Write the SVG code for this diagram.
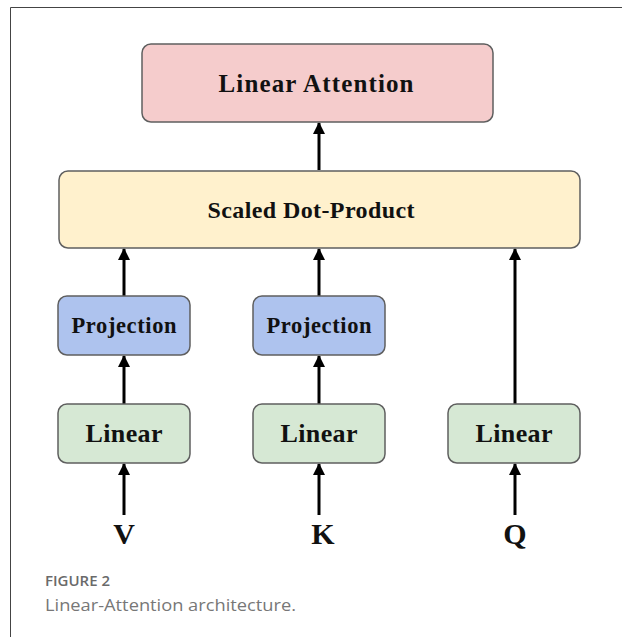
<svg xmlns="http://www.w3.org/2000/svg" width="622" height="637" viewBox="0 0 622 637">
  <defs>
    <marker id="arrow" viewBox="0 0 12 12" markerWidth="12" markerHeight="12" refX="11" refY="6" orient="auto" markerUnits="userSpaceOnUse">
      <path d="M0,0 L12,6 L0,12 Z" fill="#000"/>
    </marker>
    <style>
      .box { stroke: #5f5f5f; stroke-width: 1.5; }
      .pink { fill: #f5cccc; }
      .yellow { fill: #fff1cd; }
      .blue { fill: #aec3ee; }
      .green { fill: #d6e8d4; }
      .lbl { font-family: "Liberation Serif", "Times New Roman", serif; font-weight: bold; fill: #111; text-anchor: middle; }
      .conn { stroke: #000; stroke-width: 3; fill: none; marker-end: url(#arrow); }
      .cap1 { font-family: "Open Sans", "Liberation Sans", sans-serif; font-weight: 600; font-size: 15px; fill: #6a6a6a; }
      .cap2 { font-family: "Open Sans", "Liberation Sans", sans-serif; font-size: 17px; fill: #777; }
    </style>
  </defs>

  <rect width="622" height="637" fill="#fff"/>
  <!-- figure frame -->
  <path d="M10.5,637 V7.5 H622" fill="none" stroke="#444" stroke-width="1"/>

  <g id="connectors">
    <line class="conn" x1="319" y1="170" x2="319" y2="123"/>
    <line class="conn" x1="124" y1="296" x2="124" y2="249"/>
    <line class="conn" x1="319" y1="296" x2="319" y2="249"/>
    <line class="conn" x1="515" y1="404" x2="515" y2="249"/>
    <line class="conn" x1="124" y1="404" x2="124" y2="356"/>
    <line class="conn" x1="319" y1="404" x2="319" y2="356"/>
    <line class="conn" x1="124" y1="515" x2="124" y2="464"/>
    <line class="conn" x1="319" y1="515" x2="319" y2="464"/>
    <line class="conn" x1="515" y1="515" x2="515" y2="464"/>
  </g>

  <g id="linear-attention">
    <rect class="box pink" x="142" y="44" width="351" height="78" rx="9"/>
    <text class="lbl" x="316" y="92" font-size="25" textLength="195" lengthAdjust="spacing">Linear Attention</text>
  </g>

  <g id="scaled-dot-product">
    <rect class="box yellow" x="59" y="171" width="521" height="77" rx="9"/>
    <text class="lbl" x="311" y="218" font-size="24" textLength="207" lengthAdjust="spacing">Scaled Dot-Product</text>
  </g>

  <g id="projection-v">
    <rect class="box blue" x="58" y="296" width="132" height="59" rx="9"/>
    <text class="lbl" x="124" y="333" font-size="22.5" textLength="105" lengthAdjust="spacing">Projection</text>
  </g>

  <g id="projection-k">
    <rect class="box blue" x="253" y="296" width="132" height="59" rx="9"/>
    <text class="lbl" x="319" y="333" font-size="22.5" textLength="105" lengthAdjust="spacing">Projection</text>
  </g>

  <g id="linear-v">
    <rect class="box green" x="58" y="404" width="132" height="59" rx="9"/>
    <text class="lbl" x="124" y="442" font-size="26" textLength="77" lengthAdjust="spacing">Linear</text>
  </g>

  <g id="linear-k">
    <rect class="box green" x="253" y="404" width="132" height="59" rx="9"/>
    <text class="lbl" x="319" y="442" font-size="26" textLength="77" lengthAdjust="spacing">Linear</text>
  </g>

  <g id="linear-q">
    <rect class="box green" x="448" y="404" width="132" height="59" rx="9"/>
    <text class="lbl" x="514" y="442" font-size="26" textLength="77" lengthAdjust="spacing">Linear</text>
  </g>

  <g id="input-v">
    <text class="lbl" x="124" y="544" font-size="30">V</text>
  </g>
  <g id="input-k">
    <text class="lbl" x="323" y="544" font-size="30">K</text>
  </g>
  <g id="input-q">
    <text class="lbl" x="515" y="544" font-size="30">Q</text>
  </g>

  <g id="caption">
    <text class="cap1" x="45" y="586">FIGURE 2</text>
    <text class="cap2" x="45" y="611" textLength="251" lengthAdjust="spacingAndGlyphs">Linear-Attention architecture.</text>
  </g>
</svg>
